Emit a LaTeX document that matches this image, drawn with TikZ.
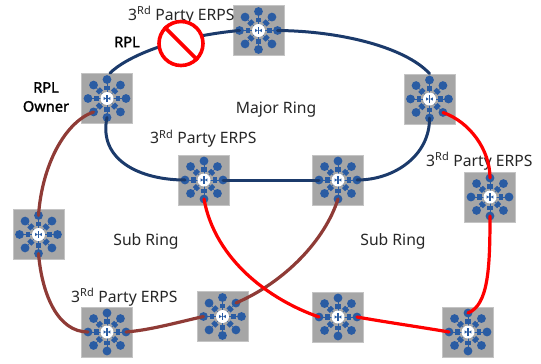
\documentclass[tikz,border=0pt]{standalone}
\usepackage{fontspec}
\setmainfont{Noto Sans}
\newfontfamily\heavyfam[FakeBold=1.6]{Noto Sans}
\definecolor{dotblue}{HTML}{2A5CA3}
\definecolor{ringblue}{HTML}{1B3A6B}
\definecolor{ringbrown}{HTML}{8F3B36}
\definecolor{boxgray}{HTML}{A6A6A6}
\definecolor{boxedge}{HTML}{C4C4C4}
\tikzset{
  switchbox/.style={draw=boxedge,line width=0.8pt,fill=boxgray,minimum width=51pt,minimum height=50pt,inner sep=0pt},
  major/.style={draw=ringblue,line width=3pt,line cap=round},
  subbrown/.style={draw=ringbrown,line width=3.2pt,line cap=round},
  subred/.style={draw=red,line width=3.2pt,line cap=round},
  lab/.style={font=\fontsize{15.7}{18}\selectfont,inner sep=0pt,text=black!85},
  boldlab/.style={font=\fontsize{14.6}{18}\selectfont\heavyfam,inner sep=0pt,text=black,align=center},
}
\newcommand{\switchat}[3]{%
  \node[switchbox] (#1) at (#2,#3) {};
  \begin{scope}[shift={(#2,#3)}]
    \foreach \a in {0,45,...,315} {
      \draw[dotblue,line width=0.5pt] (0,0) -- (\a:17);
      \fill[dotblue] (\a:19) circle (4.4);
      \fill[dotblue,rotate=\a] (8.5,-2.9) rectangle (13,2.9);
    }
    \fill[white] (0,0) circle (6.5);
    \fill[dotblue] (-0.7,-3.6) rectangle (0.7,3.6);
    \fill[dotblue] (-3.4,-1.6) -- (-0.7,0) -- (-3.4,1.6) -- cycle;
    \fill[dotblue] (3.4,-1.6) -- (0.7,0) -- (3.4,1.6) -- cycle;
    \coordinate (#1-n) at (0,-19);
    \coordinate (#1-s) at (0,19);
    \coordinate (#1-e) at (19,0);
    \coordinate (#1-w) at (-19,0);
    \coordinate (#1-sw) at (-13.5,13.5);
    \coordinate (#1-se) at (13.5,13.5);
    \coordinate (#1-ne) at (13.5,-13.5);
  \end{scope}
}
\newcommand{\erps}{3\textsuperscript{Rd} Party ERPS}
\begin{document}
\begin{tikzpicture}[x=1pt,y=-1pt]
\useasboundingbox (0,0) rectangle (541,364);
\switchat{owner}{107}{98.5}
\switchat{top}{258.5}{30.5}
\switchat{rt}{429.5}{99}
\switchat{mida}{204}{180}
\switchat{midb}{338}{180}
\switchat{rgt}{490}{197}
\switchat{lft}{38.5}{234.5}
\switchat{bl}{107}{332}
\switchat{bc}{222.5}{316.5}
\switchat{bm}{338}{317}
\switchat{br}{468}{332}
% texts
\node[lab,anchor=base west] (t1) at (128,20) {\erps};
\node[lab,anchor=base west] (t2) at (150,143.5) {\erps};
\node[lab,anchor=base west] (t3) at (426,166) {\erps};
\node[lab,anchor=base west] (t4) at (71,302) {\erps};
\node[lab] (maj) at (276,110) {Major Ring};
\node[lab] (sr1) at (146,241) {Sub Ring};
\node[lab] (sr2) at (393,241) {Sub Ring};
\node[boldlab] (rpl) at (127,42) {RPL};
\node[boldlab] (own) at (46,97) {RPL\\[1pt]Owner};
% major ring
\draw[major] (owner.north) ++(3,0) .. controls (125,58) and (170,37) .. (top-w);
\draw[major] (top-e) .. controls (340,31) and (405,47) .. (rt.north);
\draw[major] (rt-s) .. controls (430,155) and (395,180) .. (midb-e);
\draw[major] (owner-s) .. controls (98,160) and (140,180) .. (mida-w);
\draw[major] (mida-e) -- (midb-w);
% brown sub ring
\draw[subbrown] (owner-sw) .. controls (65,122) and (42,165) .. (lft-n);
\draw[subbrown] (lft-s) .. controls (42,295) and (58,332) .. (bl-w);
\draw[subbrown] (bl-e) .. controls (150,330) and (175,323) .. (bc-w);
\draw[subbrown] (bc-ne) .. controls (285,282) and (325,240) .. (midb-s);
% red sub ring
\draw[subred] (rt-se) .. controls (470,122) and (490,150) .. (rgt-n);
\draw[subred] (rgt-s) .. controls (490,270) and (488,305) .. (br-n);
\draw[subred] (mida-s) .. controls (215,260) and (270,300) .. (bm-w);
\draw[subred] (bm-e) .. controls (385,322) and (420,327) .. (br-w);
% prohibition sign
\node[circle,draw=red,fill=white,line width=3.6pt,minimum size=44pt,inner sep=0pt] (sign) at (181,43.5) {};
\draw[red,line width=3.6pt] (sign.135) -- (sign.-45);
\end{tikzpicture}
\end{document}
